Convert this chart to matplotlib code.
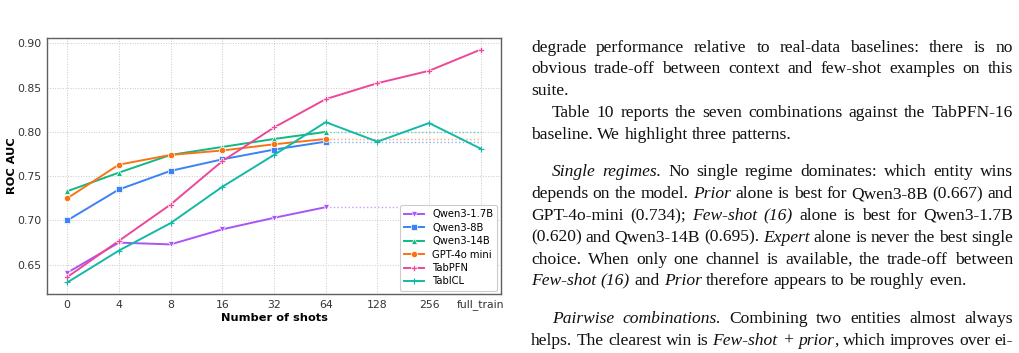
"""ROC AUC vs. number of shots, next to a column of justified body text."""

import matplotlib

matplotlib.use("Agg")
import matplotlib.pyplot as plt

# --- chart data -------------------------------------------------------------
shots = ["0", "4", "8", "16", "32", "64", "128", "256", "full_train"]

qwen3_1_7b = [0.641, 0.675, 0.673, 0.690, 0.703, 0.715]
qwen3_8b = [0.700, 0.735, 0.756, 0.769, 0.780, 0.789]
qwen3_14b = [0.733, 0.754, 0.774, 0.783, 0.792, 0.800]
gpt4o_mini = [0.725, 0.763, 0.774, 0.779, 0.786, 0.792]
tabpfn = [0.636, 0.677, 0.718, 0.767, 0.805, 0.837, 0.855, 0.869, 0.893]
tabicl = [0.630, 0.666, 0.697, 0.738, 0.774, 0.811, 0.789, 0.810, 0.781]

series = [
    ("Qwen3-1.7B", qwen3_1_7b, "#a855f7", "v"),
    ("Qwen3-8B", qwen3_8b, "#3b82f6", "s"),
    ("Qwen3-14B", qwen3_14b, "#10b981", "^"),
    ("GPT-4o mini", gpt4o_mini, "#f97316", "o"),
    ("TabPFN", tabpfn, "#ec4899", "P"),
    ("TabICL", tabicl, "#14b8a6", "+"),
]

# --- body text (segments of (text, italic)) ----------------------------------
body_lines = [
    # (segments, justify, indent, paragraph_gap_before)
    ([("degrade performance relative to real-data baselines: there is no", False)], True, False, False),
    ([("obvious trade-off between context and few-shot examples on this", False)], True, False, False),
    ([("suite.", False)], False, False, False),
    ([("Table 10 reports the seven combinations against the TabPFN-16", False)], True, True, False),
    ([("baseline. We highlight three patterns.", False)], False, False, False),
    ([("Single regimes.", True), (" No single regime dominates: which entity wins", False)], True, True, True),
    ([("depends on the model. ", False), ("Prior", True), (" alone is best for Qwen3-8B (0.667) and", False)], True, False, False),
    ([("GPT-4o-mini (0.734); ", False), ("Few-shot (16)", True), (" alone is best for Qwen3-1.7B", False)], True, False, False),
    ([("(0.620) and Qwen3-14B (0.695). ", False), ("Expert", True), (" alone is never the best single", False)], True, False, False),
    ([("choice. When only one channel is available, the trade-off between", False)], True, False, False),
    ([("Few-shot (16)", True), (" and ", False), ("Prior", True), (" therefore appears to be roughly even.", False)], False, False, False),
    ([("Pairwise combinations.", True), (" Combining two entities almost always", False)], True, True, True),
    ([("helps. The clearest win is ", False), ("Few-shot + prior", True), (", which improves over ei-", False)], True, False, False),
]

W, H = 1020, 353
fig = plt.figure(figsize=(W / 100, H / 100), dpi=100)

# --- chart ------------------------------------------------------------------
ax = fig.add_axes([47 / W, 1 - 294 / H, (501 - 47) / W, (294 - 38) / H])
x_all = list(range(len(shots)))

for name, values, color, marker in series:
    xs = x_all[: len(values)]
    thin = marker == "+"
    ax.plot(xs, values, color=color, linewidth=1.4, marker=marker,
            markersize=5 if thin else 4.5, markeredgecolor=color if thin else "white",
            markeredgewidth=0.8 if thin else 0.5, label=name, zorder=3)
    if len(values) < len(shots):
        ax.plot([xs[-1], x_all[-1]], [values[-1], values[-1]], color=color,
                linewidth=1.0, linestyle=":", alpha=0.6, zorder=2)

ax.set_xticks(x_all)
ax.set_xticklabels(shots)
ax.set_xlim(-0.39, 8.39)
ax.set_ylim(0.617, 0.906)
ax.set_yticks([0.65, 0.70, 0.75, 0.80, 0.85, 0.90])
ax.set_yticklabels(["0.65", "0.70", "0.75", "0.80", "0.85", "0.90"])
ax.grid(True, linestyle=":", color="#c8c8c8", linewidth=0.7)
ax.set_axisbelow(True)
ax.tick_params(length=0, labelsize=7.8, labelcolor="#333333", pad=4)
for spine in ax.spines.values():
    spine.set_color("#5f5f5f")
    spine.set_linewidth(1.0)

ax.set_xlabel("Number of shots", fontsize=8.2, fontweight="bold", labelpad=2)
ax.set_ylabel("ROC AUC", fontsize=8.2, fontweight="bold", labelpad=0)

leg = ax.legend(loc="lower right", fontsize=7.2, frameon=True, borderaxespad=0.35,
                handlelength=2.0, labelspacing=0.35, borderpad=0.4)
leg.get_frame().set_edgecolor("#cccccc")
leg.get_frame().set_linewidth(0.8)
leg.get_frame().set_alpha(1.0)

# --- justified body text ------------------------------------------------------
text_left, text_right = 531, 1013
indent_px = 21
line_step = 21.8
para_gap = 15.8
font_size = 12.6
serif = "Liberation Serif"

renderer = fig.canvas.get_renderer()


def _tokenize(segments):
    words, cur = [], []
    for text, italic in segments:
        parts = text.split(" ")
        for i, part in enumerate(parts):
            if i > 0 and cur:
                words.append(cur)
                cur = []
            if part:
                cur.append((part, italic))
    if cur:
        words.append(cur)
    return words


def _piece(x, y, text, italic):
    return fig.text(x / W, 1 - y / H, text, fontsize=font_size, family=serif,
                    style="italic" if italic else "normal", va="baseline", ha="left",
                    color="#111111")


def _width(text, italic):
    t = _piece(0, 0, text, italic)
    w = t.get_window_extent(renderer).width
    t.remove()
    return w


space_w = _width("a a", False) - _width("aa", False)

baseline = 51.5
for i, (segments, justify, indent, gap) in enumerate(body_lines):
    if i > 0:
        baseline += line_step + (para_gap if gap else 0)
    words = _tokenize(segments)
    widths = [sum(_width(p, it) for p, it in word) for word in words]
    x0 = text_left + (indent_px if indent else 0)
    if justify and len(words) > 1:
        gap_w = (text_right - x0 - sum(widths)) / (len(words) - 1)
    else:
        gap_w = space_w
    x = x0
    for word, w in zip(words, widths):
        px = x
        for piece, italic in word:
            _piece(px, baseline, piece, italic)
            px += _width(piece, italic)
        x += w + gap_w

fig.savefig("out.png", dpi=100)
